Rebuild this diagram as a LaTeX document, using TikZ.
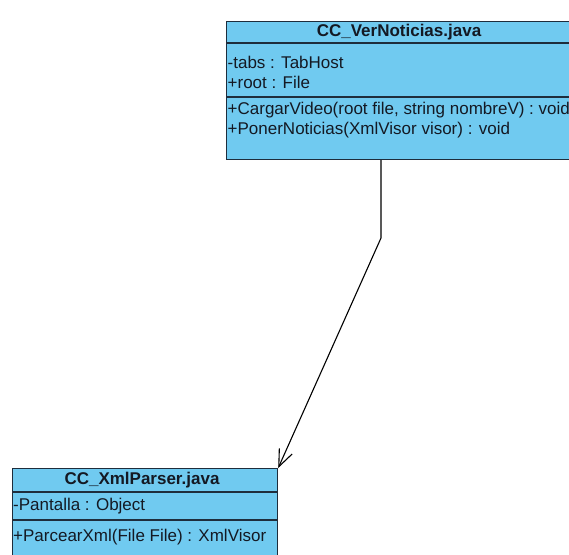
\documentclass[tikz,border=0pt]{standalone}
\usepackage{fontspec}
\setmainfont{Liberation Sans}
\usetikzlibrary{arrows.meta}
\definecolor{classfill}{RGB}{112,202,240}
\definecolor{classline}{RGB}{30,45,60}
\definecolor{classtext}{RGB}{20,25,35}
\begin{document}
\begin{tikzpicture}[x=1pt,y=1pt,
  classbox/.style={draw=classline, fill=classfill, line width=1.2pt, inner sep=0pt, anchor=north west},
  sep/.style={draw=classline, line width=1.2pt},
  classtitle/.style={font=\fontsize{17}{19}\selectfont\bfseries, text=classtext, inner sep=0pt},
  member/.style={font=\fontsize{17}{19}\selectfont, text=classtext, anchor=west, inner sep=0pt},
  assoc/.style={draw=black, line width=1.1pt, -{Straight Barb[length=17pt,width=14pt]}}]
\useasboundingbox (0,0) rectangle (569,554);
\clip (0,0) rectangle (569,554);
\fill[white] (0,0) rectangle (569,554);

% class CC_VerNoticias
\node[classbox, minimum width=345pt, minimum height=138pt] (ver) at (226,533) {};
\draw[sep] (226,511) -- (571,511);
\draw[sep] (226,457) -- (571,457);
\node[classtitle] (vertitle) at (399,522) {CC\_VerNoticias.java};
\node[member] (vertabs) at (227.5,492) {-tabs : TabHost};
\node[member] (verroot) at (227.5,472) {+root : File};
\node[member] (vercargar) at (227.5,444) {+CargarVideo(root file, string nombreV) : void};
\node[member] (verponer) at (227.5,424) {+PonerNoticias(XmlVisor visor) : void};

% class CC_XmlParser
\node[classbox, minimum width=265pt, minimum height=100pt] (xml) at (12,86) {};
\draw[sep] (12,62) -- (277,62);
\draw[sep] (12,34) -- (277,34);
\node[classtitle] (xmltitle) at (142,74) {CC\_XmlParser.java};
\node[member] (xmlpantalla) at (13,48) {-Pantalla : Object};
\node[member] (xmlparcear) at (13,17) {+ParcearXml(File File) : XmlVisor};

% association
\coordinate (bend) at (381,316);
\draw[assoc] (bend |- ver.south) -- (bend) -- (xml.north east);
\end{tikzpicture}
\end{document}
